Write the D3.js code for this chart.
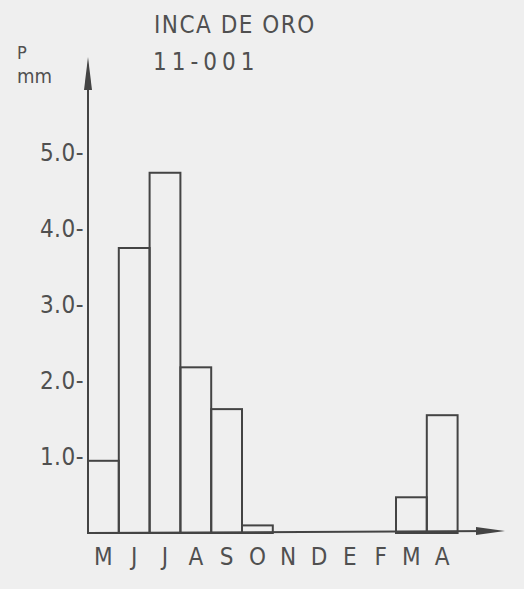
<!DOCTYPE html>
<html><head><meta charset="utf-8">
<script src="https://cdn.jsdelivr.net/npm/d3@7/dist/d3.min.js"></script>
<style>
html,body{margin:0;padding:0;background:#efefef;}
svg{display:block;}
text{font-family:"DejaVu Sans Condensed","DejaVu Sans",sans-serif;fill:#505050;}
</style></head>
<body>
<script>
const monthKeys = ["May","Jun","Jul","Aug","Sep","Oct","Nov","Dec","Jan","Feb","Mar","Apr"];
const monthLabels = ["M","J","J","A","S","O","N","D","E","F","M","A"];
const precip = [0.95, 3.75, 4.74, 2.18, 1.63, 0.1, 0, 0, 0, 0, 0.47, 1.55];
const yTicks = [1, 2, 3, 4, 5];
const titleLines = ["INCA DE ORO", "11-001"];

const W = 524, H = 589;
const ink = "#444";
const font = '"DejaVu Sans Condensed","DejaVu Sans",sans-serif';
const svg = d3.select("body").append("svg").attr("width", W).attr("height", H);

const x0 = 88, baseY = 533;
const x = d3.scaleBand().domain(monthKeys).range([x0, x0 + 12 * 30.8]).padding(0);
const y = d3.scaleLinear().domain([0, 5]).range([baseY, 153]);

// title
svg.append("text").attr("x", 154).attr("y", 33).attr("font-size", 24).attr("letter-spacing", 1.5).text(titleLines[0]);
svg.append("text").attr("x", 153).attr("y", 70).attr("font-size", 24).attr("letter-spacing", 5).text(titleLines[1]);
// axis label
svg.append("text").attr("x", 17).attr("y", 59).attr("font-size", 18).text("P");
svg.append("text").attr("x", 17).attr("y", 83).attr("font-size", 20).text("mm");

// bars
svg.append("g").selectAll("rect").data(monthKeys.map((k, i) => ({k, v: precip[i]})).filter(d => d.v > 0))
  .join("rect")
  .attr("x", d => x(d.k)).attr("width", x.bandwidth())
  .attr("y", d => y(d.v)).attr("height", d => y(0) - y(d.v))
  .attr("fill", "none").attr("stroke", ink).attr("stroke-width", 2);

// y axis
const yAxis = d3.axisLeft(y).tickValues(yTicks).tickSize(0).tickPadding(4)
  .tickFormat(d => d3.format(".1f")(d) + "-");
const gy = svg.append("g").attr("transform", `translate(${x0},0)`).call(yAxis);
gy.select(".domain").remove();
gy.selectAll("text").attr("font-size", 24).attr("fill", "#505050").attr("letter-spacing", 0.5)
  .style("font-family", font);

svg.append("line").attr("x1", x0).attr("x2", x0).attr("y1", baseY).attr("y2", 70)
  .attr("stroke", ink).attr("stroke-width", 2);
svg.append("path").attr("d", `M${x0},57 L${x0-4},90 L${x0+4},90 Z`).attr("fill", ink);

// x axis
const xAxis = d3.axisBottom(x).tickSize(0).tickPadding(15).tickFormat((d, i) => monthLabels[i]);
const gx = svg.append("g").attr("transform", `translate(0,${baseY})`).call(xAxis);
gx.select(".domain").remove();
gx.selectAll("text").attr("font-size", 24).attr("fill", "#505050")
  .style("font-family", font);

svg.append("line").attr("x1", x0).attr("x2", 495).attr("y1", baseY).attr("y2", baseY - 2)
  .attr("stroke", ink).attr("stroke-width", 2);
svg.append("path").attr("d", `M505,${baseY-2} L476,${baseY-6} L476,${baseY+2} Z`).attr("fill", ink);
</script>
</body></html>
